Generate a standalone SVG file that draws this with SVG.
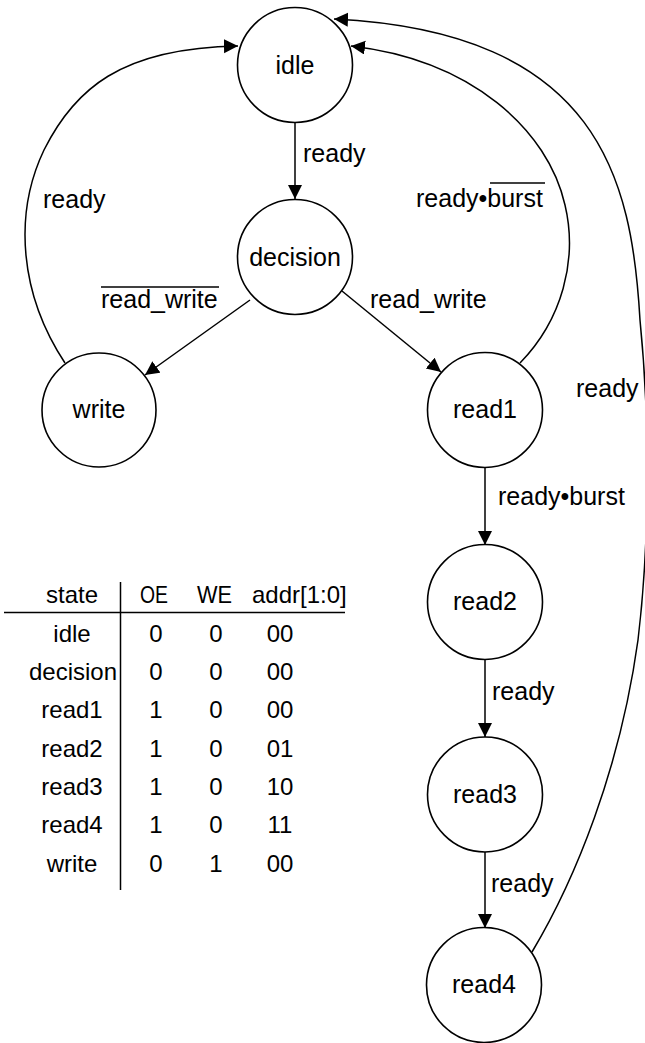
<svg xmlns="http://www.w3.org/2000/svg" width="645" height="1043" viewBox="0 0 645 1043">
<style>
text{font-family:"Liberation Sans",Arial,sans-serif;font-size:25px;fill:#000}
.c{text-anchor:middle}
.t{font-size:24px}
.node{fill:#fff;stroke:#000;stroke-width:1.6}
.edge{fill:none;stroke:#000;stroke-width:1.5}
.rule{stroke:#000;stroke-width:1.5;fill:none}
</style>
<defs>
<marker id="ah" markerUnits="userSpaceOnUse" markerWidth="15" markerHeight="15" refX="14" refY="7" orient="auto">
<path d="M0,0 L14,7 L0,14 z" fill="#000"/>
</marker>
</defs>
<rect width="645" height="1043" fill="#fff"/>
<g id="connectors">
<line class="edge" x1="295" y1="123" x2="295" y2="199" marker-end="url(#ah)"/>
<line class="edge" x1="250" y1="300" x2="145" y2="375" marker-end="url(#ah)"/>
<line class="edge" x1="342" y1="291" x2="441" y2="372" marker-end="url(#ah)"/>
<path class="edge" d="M65,363 C20,295 13,215 44,150 C74,90 120,48 238,46" marker-end="url(#ah)"/>
<path class="edge" d="M520,363 C562,320 578,260 565,205 C548,130 472,60 351,46" marker-end="url(#ah)"/>
<path class="edge" d="M532,952 C575,880 620,770 638,640 C650,540 650,420 640,320 C632,180 600,32 334,19" marker-end="url(#ah)"/>
<line class="edge" x1="485" y1="467" x2="485" y2="545" marker-end="url(#ah)"/>
<line class="edge" x1="485" y1="660" x2="485" y2="737" marker-end="url(#ah)"/>
<line class="edge" x1="485" y1="852" x2="485" y2="928" marker-end="url(#ah)"/>
<text x="303" y="162">ready</text>
<text x="43" y="208">ready</text>
<text x="416" y="207">ready•burst</text>
<line class="rule" x1="490" y1="183" x2="545" y2="183"/>
<text x="101" y="308">read_write</text>
<line class="rule" x1="101" y1="287" x2="219" y2="287"/>
<text x="370" y="308">read_write</text>
<text x="576" y="397">ready</text>
<text x="498" y="505">ready•burst</text>
<text x="492" y="700">ready</text>
<text x="491" y="892">ready</text>
</g>
<g id="idle"><circle class="node" cx="295" cy="65" r="57.5"/><text class="c" x="295" y="74">idle</text></g>
<g id="decision"><circle class="node" cx="295" cy="257" r="57.5"/><text class="c" x="295" y="266">decision</text></g>
<g id="write"><circle class="node" cx="99" cy="410" r="57"/><text class="c" x="99" y="418">write</text></g>
<g id="read1"><circle class="node" cx="485" cy="410" r="57.5"/><text class="c" x="485" y="418">read1</text></g>
<g id="read2"><circle class="node" cx="485" cy="602" r="57.5"/><text class="c" x="485" y="610">read2</text></g>
<g id="read3"><circle class="node" cx="485" cy="794.5" r="57.5"/><text class="c" x="485" y="803">read3</text></g>
<g id="read4"><circle class="node" cx="484" cy="985" r="57.5"/><text class="c" x="484" y="993">read4</text></g>
<g id="table">
<line class="rule" x1="4" y1="612.5" x2="345" y2="612.5"/>
<line class="rule" x1="120.5" y1="582" x2="120.5" y2="890"/>
<text class="c t" x="72" y="603">state</text>
<text class="t" x="140" y="603" textLength="28" lengthAdjust="spacingAndGlyphs">OE</text>
<text class="t" x="197" y="603" textLength="35" lengthAdjust="spacingAndGlyphs">WE</text>
<text class="t" x="252" y="603">addr[1:0]</text>
<text class="c t" x="72" y="642">idle</text><text class="c t" x="156" y="642">0</text><text class="c t" x="216" y="642">0</text><text class="c t" x="280" y="642">00</text>
<text class="c t" x="73" y="680">decision</text><text class="c t" x="156" y="680">0</text><text class="c t" x="216" y="680">0</text><text class="c t" x="280" y="680">00</text>
<text class="c t" x="72" y="718">read1</text><text class="c t" x="156" y="718">1</text><text class="c t" x="216" y="718">0</text><text class="c t" x="280" y="718">00</text>
<text class="c t" x="72" y="757">read2</text><text class="c t" x="156" y="757">1</text><text class="c t" x="216" y="757">0</text><text class="c t" x="280" y="757">01</text>
<text class="c t" x="72" y="795">read3</text><text class="c t" x="156" y="795">1</text><text class="c t" x="216" y="795">0</text><text class="c t" x="280" y="795">10</text>
<text class="c t" x="72" y="833">read4</text><text class="c t" x="156" y="833">1</text><text class="c t" x="216" y="833">0</text><text class="c t" x="280" y="833">11</text>
<text class="c t" x="72" y="872">write</text><text class="c t" x="156" y="872">0</text><text class="c t" x="216" y="872">1</text><text class="c t" x="280" y="872">00</text>
</g>
</svg>
